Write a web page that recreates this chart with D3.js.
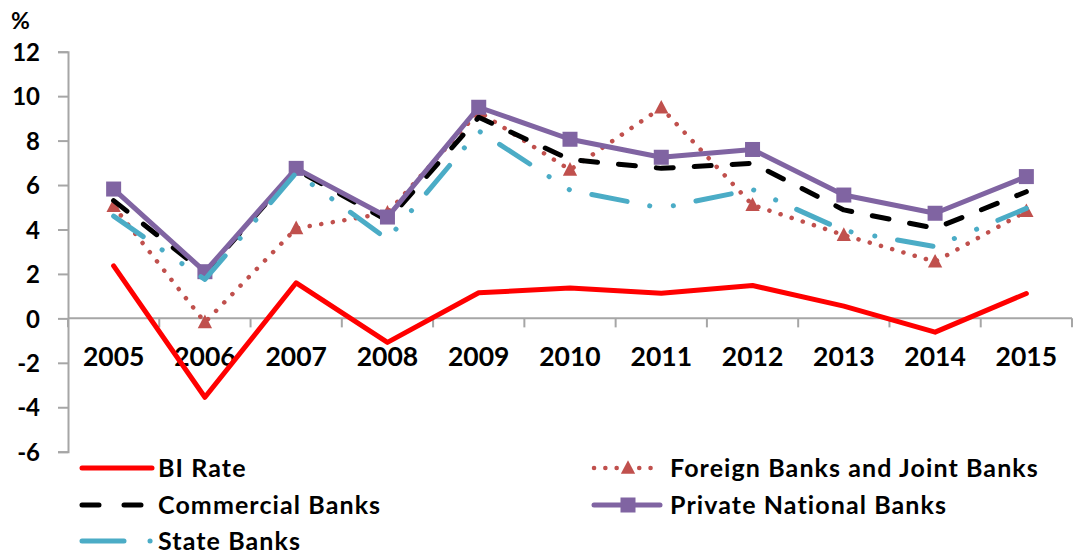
<!DOCTYPE html>
<html>
<head>
<meta charset="utf-8">
<script src="https://cdn.jsdelivr.net/npm/d3@7"></script>
<style>
  html, body { margin: 0; padding: 0; background: #fff; }
  svg { display: block; font-family: Lato, "Open Sans", sans-serif; font-weight: 700; }
</style>
</head>
<body>
<svg id="chart" width="1073" height="554"></svg>
<script>
// Years on the category axis
const years = ["2005", "2006", "2007", "2008", "2009", "2010", "2011", "2012", "2013", "2014", "2015"];

// Series values, in percent
const biRate      = [2.36, -3.55, 1.6, -1.08, 1.15, 1.37, 1.13, 1.48, 0.55, -0.62, 1.12];
const foreignJoint = [5.05, -0.18, 4.05, 4.75, 9.3, 6.68, 9.48, 5.1, 3.75, 2.55, 4.82];
const commercial  = [5.3, 2.05, 6.7, 4.4, 9.05, 7.15, 6.75, 6.98, 4.88, 4.05, 5.7];
const privateNat  = [5.82, 2.1, 6.75, 4.56, 9.5, 8.06, 7.25, 7.6, 5.55, 4.73, 6.38];
const stateBanks  = [4.6, 1.75, 6.55, 3.56, 8.44, 5.77, 4.96, 5.8, 3.95, 3.23, 4.95];

// Value axis tick labels
const yTicks = [-6, -4, -2, 0, 2, 4, 6, 8, 10, 12];
const yTickLabels = ["-6", "-4", "-2", "0", "2", "4", "6", "8", "10", "12"];

const series = [
  { name: "BI Rate", values: biRate, color: "#FF0000", width: 5, dash: null, marker: null },
  { name: "Foreign Banks and Joint Banks", values: foreignJoint, color: "#C0504D", width: 4.5, dash: "0.1,11.6", marker: "triangle" },
  { name: "Commercial Banks", values: commercial, color: "#000000", width: 5, dash: "17,21", marker: null },
  { name: "Private National Banks", values: privateNat, color: "#8064A2", width: 5, dash: null, marker: "square" },
  { name: "State Banks", values: stateBanks, color: "#4BACC6", width: 5, dash: "36,23,0.1,24,0.1,23", marker: null }
];

const svg = d3.select("#chart");
const axisColor = "#A6A6A6";

const x = d3.scaleBand().domain(years).range([68, 1072]).padding(0);
const y = d3.scaleLinear().domain([-6, 12]).range([451.7, 51.7]);
const cx = d => x(d) + x.bandwidth() / 2;

// Value axis
const yAxis = d3.axisLeft(y).tickValues(yTicks).tickSize(10).tickPadding(18)
  .tickFormat((d, i) => yTickLabels[i]);
const gy = svg.append("g").attr("transform", "translate(68,0)").call(yAxis);
gy.select(".domain").attr("stroke", axisColor).attr("stroke-width", 2);
gy.selectAll(".tick line").attr("stroke", axisColor).attr("stroke-width", 2);
gy.selectAll(".tick text").attr("font-size", 24).attr("font-weight", 700).attr("fill", "#000")
  .attr("font-family", "Lato, sans-serif").attr("dy", "0.36em");

// Unit label
svg.append("text").attr("x", 11).attr("y", 29).attr("font-size", 23).attr("fill", "#000").text("%");

// Category axis on the zero line
const gx = svg.append("g");
gx.append("line")
  .attr("x1", x.range()[0]).attr("x2", x.range()[1])
  .attr("y1", y(0)).attr("y2", y(0))
  .attr("stroke", axisColor).attr("stroke-width", 2);
const boundaries = years.map(d => x(d)).concat([x.range()[1]]);
gx.selectAll("line.tick").data(boundaries).join("line")
  .attr("class", "tick")
  .attr("x1", d => d).attr("x2", d => d)
  .attr("y1", y(0)).attr("y2", y(0) + 9)
  .attr("stroke", axisColor).attr("stroke-width", 2);
gx.selectAll("text").data(years).join("text")
  .attr("x", d => cx(d)).attr("y", 366)
  .attr("text-anchor", "middle").attr("font-size", 26.5).attr("fill", "#000")
  .text(d => d);

// Lines
const line = d3.line().x((d, i) => cx(years[i])).y(d => y(d));
const trianglePath = s => `M0,${-s * 0.6}L${s * 0.55},${s * 0.45}L${-s * 0.55},${s * 0.45}Z`;

series.forEach(s => {
  const g = svg.append("g");
  g.append("path").datum(s.values)
    .attr("d", line)
    .attr("fill", "none")
    .attr("stroke", s.color)
    .attr("stroke-width", s.width)
    .attr("stroke-linecap", "round")
    .attr("stroke-linejoin", "round")
    .attr("stroke-dasharray", s.dash);
  if (s.marker === "square") {
    g.selectAll("rect").data(s.values).join("rect")
      .attr("x", (d, i) => cx(years[i]) - 7.5).attr("y", d => y(d) - 7.5)
      .attr("width", 15).attr("height", 15).attr("fill", s.color);
  } else if (s.marker === "triangle") {
    g.selectAll("path.mk").data(s.values).join("path")
      .attr("class", "mk")
      .attr("transform", (d, i) => `translate(${cx(years[i])},${y(d)})`)
      .attr("d", trianglePath(13)).attr("fill", s.color);
  }
});

// Legend
const legendItems = [
  { s: series[0], x: 80, y: 468, dash: null },
  { s: series[1], x: 592, y: 468, dash: "0.1,11.2" },
  { s: series[2], x: 80, y: 505, dash: "17,25" },
  { s: series[3], x: 592, y: 505, dash: null },
  { s: series[4], x: 80, y: 541, dash: "42,26,0.1,40" }
];
const lg = svg.append("g");
legendItems.forEach(it => {
  const s = it.s;
  const len = s.marker ? 68 : 72;
  const g = lg.append("g");
  g.append("line")
    .attr("x1", it.x + 2).attr("x2", it.x + len)
    .attr("y1", it.y).attr("y2", it.y)
    .attr("stroke", s.color).attr("stroke-width", s.width)
    .attr("stroke-linecap", "round")
    .attr("stroke-dasharray", it.dash);
  const mx = it.x + len / 2 + 2;
  if (s.marker === "square") {
    g.append("rect").attr("x", mx - 7.5).attr("y", it.y - 7.5).attr("width", 15).attr("height", 15).attr("fill", s.color);
  } else if (s.marker === "triangle") {
    g.append("path").attr("transform", `translate(${mx},${it.y})`).attr("d", trianglePath(13)).attr("fill", s.color);
  }
  g.append("text")
    .attr("x", it.x + 78).attr("y", it.y + 9)
    .attr("font-size", 25).attr("letter-spacing", 1.1).attr("fill", "#000")
    .text(s.name);
});
</script>
</body>
</html>
